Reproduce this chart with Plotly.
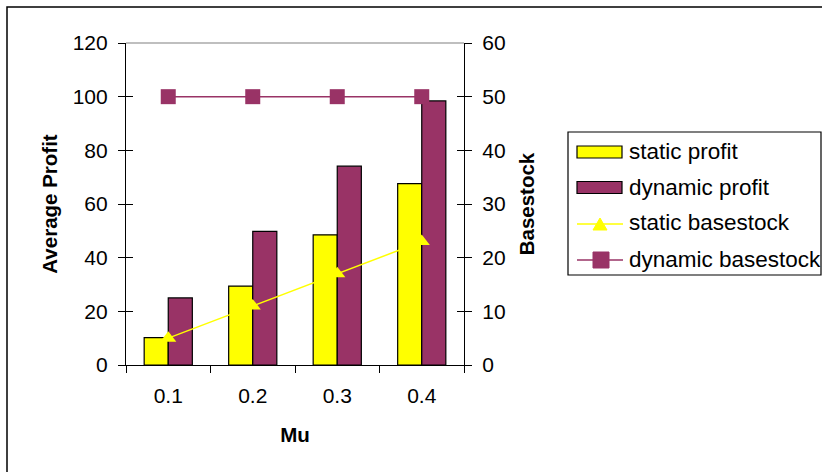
import plotly.graph_objects as go

mu = ["0.1", "0.2", "0.3", "0.4"]
static_profit = [10.2, 29.4, 48.5, 67.6]
dynamic_profit = [25.0, 49.8, 74.1, 98.4]
static_basestock = [5, 11, 17, 23]
dynamic_basestock = [50, 50, 50, 50]

YELLOW = "#FFFF00"
PLUM = "#993366"
FONT = "Liberation Sans, Arial, sans-serif"

W, H = 822, 472
L, R, T, B = 126, 464, 43, 365  # plot area in pixels


def px(x):
    return (x - L) / (R - L)


def py(y):
    return (B - y) / (B - T)


fig = go.Figure()
fig.add_trace(go.Bar(x=mu, y=static_profit, name="static profit",
                     marker=dict(color=YELLOW, line=dict(color="black", width=1.2))))
fig.add_trace(go.Bar(x=mu, y=dynamic_profit, name="dynamic profit",
                     marker=dict(color=PLUM, line=dict(color="black", width=1.2))))
fig.add_trace(go.Scatter(x=mu, y=static_basestock, name="static basestock", yaxis="y2",
                         mode="lines+markers", line=dict(color=YELLOW, width=1.5),
                         marker=dict(symbol="triangle-up", size=14, color=YELLOW)))
fig.add_trace(go.Scatter(x=mu, y=dynamic_basestock, name="dynamic basestock", yaxis="y2",
                         mode="lines+markers", line=dict(color=PLUM, width=1.5),
                         marker=dict(symbol="square", size=15, color=PLUM)))
# empty traces so the inner tick axes get drawn
fig.add_trace(go.Scatter(x=[], y=[], yaxis="y3", showlegend=False, hoverinfo="skip"))
fig.add_trace(go.Scatter(x=[], y=[], yaxis="y4", showlegend=False, hoverinfo="skip"))

tickfont = dict(family=FONT, size=21, color="black")
titlefont = dict(family=FONT, size=20.5, color="black", weight="bold")

fig.update_layout(
    width=W, height=H,
    margin=dict(l=L, r=W - R, t=T, b=H - B),
    paper_bgcolor="white", plot_bgcolor="white",
    showlegend=False,
    barmode="group", bargap=0.43, bargroupgap=0,
    font=dict(family=FONT, color="black"),
    xaxis=dict(type="category", showgrid=False, showline=True, linecolor="black", linewidth=1.2,
               ticks="outside", tickson="boundaries", ticklen=7, tickcolor="black", tickwidth=1.2,
               tickfont=tickfont, ticklabelstandoff=12,
               title=dict(text="Mu", font=titlefont, standoff=21)),
    yaxis=dict(range=[0, 120], dtick=20, showgrid=False, zeroline=False, showline=True,
               linecolor="black", linewidth=1.2, ticks="outside", ticklen=7, tickcolor="black",
               tickwidth=1.2, tickfont=tickfont, ticklabelstandoff=6,
               title=dict(text="Average Profit", font=titlefont, standoff=9)),
    yaxis2=dict(range=[0, 60], dtick=10, overlaying="y", side="right", showgrid=False,
                zeroline=False, showline=True, linecolor="black", linewidth=1.2,
                ticks="outside", ticklen=7, tickcolor="black", tickwidth=1.2, tickfont=tickfont,
                ticklabelstandoff=6,
                title=dict(text="Basestock", font=titlefont, standoff=14)),
    yaxis3=dict(range=[0, 120], dtick=20, overlaying="y", side="left", showgrid=False,
                zeroline=False, showline=False, ticks="inside", ticklen=7, tickcolor="black",
                tickwidth=1.2, showticklabels=False),
    yaxis4=dict(range=[0, 60], dtick=10, overlaying="y", side="right", showgrid=False,
                zeroline=False, showline=False, ticks="inside", ticklen=7, tickcolor="black",
                tickwidth=1.2, showticklabels=False),
)

shapes = []
# plot area frame (top edge)
shapes.append(dict(type="line", xref="paper", yref="paper", x0=0, x1=1, y0=1, y1=1,
                   line=dict(color="#808080", width=1.2)))
# outer chart frame
shapes.append(dict(type="rect", xref="paper", yref="paper",
                   x0=px(7), x1=px(830), y0=py(480), y1=py(7),
                   line=dict(color="black", width=1.5), layer="below"))
# legend box
shapes.append(dict(type="rect", xref="paper", yref="paper",
                   x0=px(568), x1=px(821), y0=py(275), y1=py(132),
                   line=dict(color="black", width=1.2), fillcolor="white"))

annotations = []
text_rows = [151, 187, 223, 259]
names = ["static profit", "dynamic profit", "static basestock", "dynamic basestock"]
# bar swatches
for yy, col in zip([152, 187.5], [YELLOW, PLUM]):
    shapes.append(dict(type="rect", xref="paper", yref="paper",
                       x0=px(577), x1=px(622), y0=py(yy + 6), y1=py(yy - 6),
                       fillcolor=col, line=dict(color="black", width=1.2)))
# line swatches
for yy, col in zip([224, 260], [YELLOW, PLUM]):
    shapes.append(dict(type="line", xref="paper", yref="paper",
                       x0=px(577), x1=px(623), y0=py(yy), y1=py(yy),
                       line=dict(color=col, width=1.5)))
# marker swatches
shapes.append(dict(type="path", xref="paper", yref="paper",
                   path=f"M {px(593)} {py(230)} L {px(607)} {py(230)} L {px(600)} {py(218)} Z",
                   fillcolor=YELLOW, line=dict(color=YELLOW, width=1)))
shapes.append(dict(type="rect", xref="paper", yref="paper",
                   x0=px(593), x1=px(609), y0=py(268), y1=py(252),
                   fillcolor=PLUM, line=dict(color=PLUM, width=1)))

for yy, name in zip(text_rows, names):
    annotations.append(dict(text=name, xref="paper", yref="paper", x=px(627), y=py(yy),
                            xanchor="left", yanchor="middle", showarrow=False,
                            font=dict(family=FONT, size=22.5, color="black")))

fig.update_layout(shapes=shapes, annotations=annotations)
fig.write_html("out.html")
